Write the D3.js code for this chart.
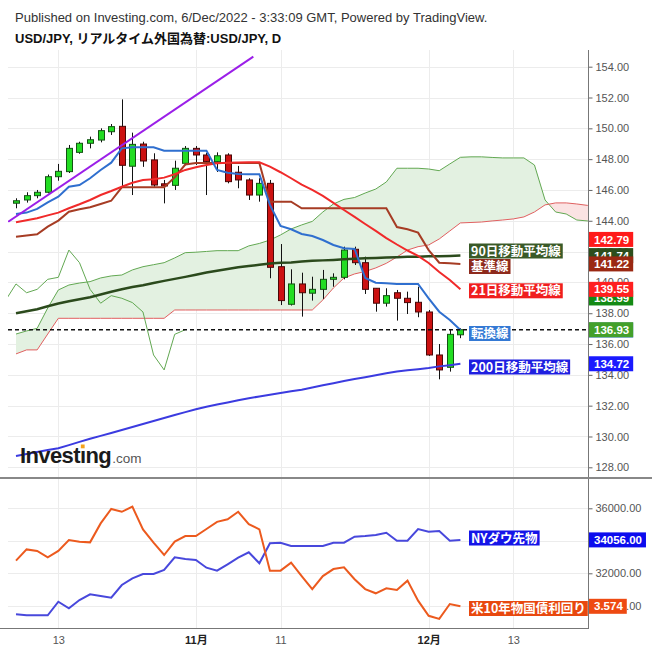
<!DOCTYPE html>
<html><head><meta charset="utf-8">
<script src="https://cdn.jsdelivr.net/npm/d3@7"></script>
<style>body{margin:0;background:#fff}svg{display:block}</style>
</head><body>
<svg id="c" width="652" height="652"></svg>
<script>
// ---------------- DATA ----------------
const dates = ["10/07","10/10","10/11","10/12","10/13","10/14","10/17","10/18","10/19","10/20","10/21","10/24","10/25","10/26","10/27","10/28","10/31","11/01","11/02","11/03","11/04","11/07","11/08","11/09","11/10","11/11","11/14","11/15","11/16","11/17","11/18","11/21","11/22","11/23","11/24","11/25","11/28","11/29","11/30","12/01","12/02","12/05","12/06"];
const open  = [145.14,145.35,145.63,145.85,146.86,147.19,148.44,149.03,149.24,149.78,150.13,147.54,148.98,147.95,146.40,146.30,147.73,148.70,148.27,147.84,148.27,147.15,146.65,145.67,146.43,141.02,138.58,139.90,139.30,139.55,140.20,140.33,142.15,141.28,139.62,138.65,139.33,138.97,138.71,138.08,135.29,134.49,136.60];
const high  = [145.46,145.85,146.00,147.00,147.69,148.92,149.13,149.46,150.00,150.28,151.88,149.72,149.13,148.38,146.65,147.90,148.85,148.85,148.40,148.44,148.38,147.56,146.76,146.76,146.65,142.49,140.85,140.63,140.37,140.81,140.59,142.32,142.32,141.67,139.62,139.62,139.51,139.40,139.72,138.21,136.00,136.91,137.02];
const low   = [144.81,145.18,145.46,145.78,146.60,147.10,148.35,148.70,149.09,149.57,146.22,145.67,147.50,146.21,145.13,146.00,147.60,147.62,145.67,147.17,146.43,146.11,145.35,145.24,140.27,138.53,138.50,137.78,138.82,138.93,139.72,140.20,141.13,139.25,138.10,138.43,137.52,137.95,137.74,135.23,133.71,134.21,136.38];
const close = [145.30,145.63,145.85,146.86,147.21,148.70,149.03,149.26,149.85,150.11,147.60,148.96,147.88,146.32,146.26,147.41,148.70,148.27,147.84,148.22,146.54,146.65,145.67,146.43,140.98,138.82,139.90,139.33,139.55,140.20,140.33,142.10,141.28,139.55,138.65,139.14,138.97,138.69,138.08,135.29,134.32,136.63,136.93];

const tenkan = [144.44,144.53,144.77,145.20,145.56,146.21,146.32,146.76,147.30,147.77,148.70,148.77,148.77,148.77,148.55,148.55,148.55,148.55,148.55,147.30,147.12,147.04,147.02,147.02,145.03,143.66,143.45,143.14,143.01,142.75,142.43,142.22,142.17,140.29,139.98,139.94,139.90,139.90,139.90,138.97,138.10,137.56,136.91];
const kijun  = [142.97,143.05,143.12,143.62,144.01,144.59,144.75,144.88,145.09,145.30,146.17,146.17,146.17,146.17,146.17,146.82,147.65,147.75,147.75,147.75,147.75,147.75,147.75,147.75,145.24,145.24,145.24,144.81,144.81,144.81,144.81,144.81,144.81,144.81,144.81,144.81,143.59,143.45,143.23,142.10,141.28,141.24,141.20];
const ma21   = [143.90,144.03,144.16,144.35,144.53,144.81,145.07,145.35,145.67,145.93,146.21,146.47,146.65,146.69,146.80,147.02,147.30,147.47,147.62,147.73,147.77,147.79,147.80,147.80,147.51,147.15,146.76,146.34,146.00,145.61,145.16,144.70,144.25,143.79,143.34,142.88,142.46,142.07,141.72,141.26,140.68,140.16,139.55];
const ma90   = [138.00,138.13,138.26,138.45,138.63,138.78,138.91,139.04,139.22,139.39,139.56,139.70,139.82,139.96,140.10,140.23,140.36,140.50,140.64,140.76,140.87,140.98,141.06,141.14,141.22,141.27,141.30,141.35,141.40,141.43,141.46,141.50,141.53,141.56,141.59,141.61,141.64,141.66,141.67,141.69,141.70,141.72,141.74];
const ma200  = [128.74,128.87,128.99,129.12,129.24,129.44,129.65,129.85,130.04,130.23,130.42,130.62,130.81,131.00,131.20,131.39,131.58,131.77,131.93,132.07,132.21,132.35,132.48,132.60,132.71,132.82,132.93,133.04,133.18,133.32,133.46,133.60,133.73,133.85,133.97,134.10,134.22,134.30,134.37,134.45,134.55,134.63,134.72];
// leading spans (index 0..55, extending past the last candle)
const spanA = [136.65,136.85,137.02,138.34,139.51,139.83,139.96,140.05,140.29,140.42,140.48,140.81,141.02,141.15,141.28,141.59,141.93,141.96,142.01,142.06,142.06,142.06,142.37,142.53,142.75,143.08,143.47,143.73,143.96,144.57,145.09,145.39,145.51,145.80,146.06,146.52,147.41,147.41,147.41,147.36,147.25,147.69,148.12,148.15,148.15,148.11,148.08,148.08,148.08,147.62,145.35,144.57,144.44,144.05,143.99,143.92];
const spanB = [135.36,135.62,135.62,136.65,137.67,137.67,137.67,137.67,137.67,137.67,137.67,137.67,137.67,137.67,137.67,138.21,138.21,138.21,138.21,138.21,138.21,138.21,138.21,138.21,138.21,138.21,138.21,138.21,138.21,138.86,139.64,140.29,140.55,140.71,140.94,141.24,141.65,142.10,142.32,142.43,142.82,143.34,143.86,143.89,143.92,143.99,144.05,144.12,144.25,144.57,145.03,145.16,145.16,145.09,145.00,144.95];
const chikouShift = 26;

const dow     = [29477,29415,29415,29415,30252,29846,30357,30708,30603,30498,31280,31692,31957,31957,32203,32985,32880,32818,32345,32160,32554,32960,33292,32615,33846,33883,33680,33680,33680,33680,33883,33883,34252,34295,34357,34498,34006,34006,34726,34560,34603,34000,34056];
const yield10 = [3.834,3.898,3.889,3.853,3.889,3.951,3.942,3.938,4.046,4.128,4.112,4.141,4.012,3.936,3.866,3.942,3.974,3.974,4.014,4.055,4.069,4.112,4.042,4.012,3.777,3.777,3.822,3.746,3.672,3.746,3.786,3.796,3.728,3.672,3.648,3.676,3.667,3.720,3.606,3.520,3.502,3.587,3.574];

const trendLine = [{i:-0.73, p:143.94},{i:22.43, p:154.65}];

const priceTicks = [128,130,132,134,136,138,140,142,144,146,148,150,152,154];
const dowTicks = [30000,32000,34000,36000];
const xTickIdx = [4,17,25,39,47];
const xTickLabels = ["13","11月","11","12月","13"];
const xTickBold = [false,true,false,true,false];

// ---------------- LAYOUT ----------------
const L=8, R=588, T1=50, B1=477, T2=479, B2=628;
const svg = d3.select("#c");
const x = d3.scaleLinear().domain([0,42]).range([16,460.4]);
const y = d3.scaleLinear().domain([128,154]).range([467.3,66.7]);
const yD = d3.scaleLinear().domain([32000,36000]).range([573.3,508.3]);
const yY = d3.scaleLinear().domain([3.574,4.141]).range([606.3,506.7]);
const LAT = "'Liberation Sans', Arial, sans-serif";
const JP = "'Noto Sans CJK JP', 'Liberation Sans', sans-serif";

const defs = svg.append("defs");
defs.append("clipPath").attr("id","cp1").append("rect").attr("x",L).attr("y",T1).attr("width",R-L).attr("height",B1-T1);
defs.append("clipPath").attr("id","cp2").append("rect").attr("x",L).attr("y",T2).attr("width",R-L).attr("height",B2-T2);

// header
svg.append("text").attr("x",15).attr("y",22).attr("font-family",LAT).attr("font-size",13).attr("fill","#333")
  .text("Published on Investing.com, 6/Dec/2022 - 3:33:09 GMT, Powered by TradingView.");
svg.append("text").attr("x",15).attr("y",43).attr("font-family",LAT+",'Noto Sans CJK JP'").attr("font-size",13).attr("font-weight","bold").attr("fill","#111")
  .text("USD/JPY, リアルタイム外国為替:USD/JPY, D");

// gridlines
const grid = svg.append("g").attr("stroke","#ececec").attr("stroke-width",1);
priceTicks.forEach(p=>grid.append("line").attr("x1",L).attr("x2",R).attr("y1",Math.round(y(p))+0.5).attr("y2",Math.round(y(p))+0.5));
dowTicks.forEach(v=>grid.append("line").attr("x1",L).attr("x2",R).attr("y1",Math.round(yD(v))+0.5).attr("y2",Math.round(yD(v))+0.5));
xTickIdx.forEach(i=>{
  const xx=Math.round(x(i))+0.5;
  grid.append("line").attr("x1",xx).attr("x2",xx).attr("y1",T1).attr("y2",B1);
  grid.append("line").attr("x1",xx).attr("x2",xx).attr("y1",T2).attr("y2",B2);
});

// ---------------- MAIN PANE ----------------
const g1 = svg.append("g").attr("clip-path","url(#cp1)");
const idxA = spanA.map((_,i)=>i);
// cloud
const cloudArea = d3.area().x(i=>x(i)).y0(i=>y(spanB[i])).y1(i=>y(spanA[i]));
const aboveB = d3.area().x(i=>x(i)).y0(i=>y(spanB[i])).y1(T1-50);
const belowB = d3.area().x(i=>x(i)).y0(i=>y(spanB[i])).y1(B1+50);
defs.append("clipPath").attr("id","cpUp").append("path").attr("d",aboveB(idxA));
defs.append("clipPath").attr("id","cpDn").append("path").attr("d",belowB(idxA));
g1.append("g").attr("clip-path","url(#cpUp)").append("path").attr("d",cloudArea(idxA)).attr("fill","#e3f1e1");
g1.append("g").attr("clip-path","url(#cpDn)").append("path").attr("d",cloudArea(idxA)).attr("fill","#fbe3e3");

const ln = (arr)=>d3.line().x((d,i)=>x(i)).y(d=>y(d))(arr);
g1.append("path").attr("d",ln(spanA)).attr("fill","none").attr("stroke","#62a852").attr("stroke-width",1);
g1.append("path").attr("d",ln(spanB)).attr("fill","none").attr("stroke","#e06060").attr("stroke-width",1);
// lagging span: closes drawn 26 bars back
const chik = close.map((c,k)=>({i:k-chikouShift,p:c})).filter(d=>d.i>=-1);
g1.append("path").attr("d",d3.line().x(d=>x(d.i)).y(d=>y(d.p))(chik)).attr("fill","none").attr("stroke","#62a852").attr("stroke-width",1);

// candles
const cg = g1.append("g");
close.forEach((c,i)=>{
  const o=open[i], up=c>=o, xx=Math.round(x(i))+0.5;
  cg.append("line").attr("x1",xx).attr("x2",xx).attr("y1",y(high[i])).attr("y2",y(low[i])).attr("stroke","#111").attr("stroke-width",1);
  const top=y(Math.max(o,c)), bot=y(Math.min(o,c));
  cg.append("rect").attr("x",xx-3).attr("y",top).attr("width",6).attr("height",Math.max(1,bot-top))
    .attr("fill",up?"#22dd22":"#cc1111").attr("stroke",up?"#145214":"#4a0808").attr("stroke-width",1);
});

// indicator lines
g1.append("path").attr("d",ln(ma200)).attr("fill","none").attr("stroke","#3b3be0").attr("stroke-width",2);
g1.append("path").attr("d",ln(ma90)).attr("fill","none").attr("stroke","#2b4a1c").attr("stroke-width",2.5);
g1.append("path").attr("d",ln(kijun)).attr("fill","none").attr("stroke","#a63c24").attr("stroke-width",2);
g1.append("path").attr("d",ln(ma21)).attr("fill","none").attr("stroke","#f02a2a").attr("stroke-width",2);
g1.append("path").attr("d",ln(tenkan)).attr("fill","none").attr("stroke","#2f6fcf").attr("stroke-width",2);
g1.append("path").attr("d",d3.line().x(d=>x(d.i)).y(d=>y(d.p))(trendLine)).attr("fill","none").attr("stroke","#9b1fe8").attr("stroke-width",2);

// logo
const logo = svg.append("g");
const lt = logo.append("text").attr("x",20).attr("y",463).attr("font-family",LAT).attr("font-size",22).attr("font-weight","bold").attr("fill","#1a1a1a").attr("letter-spacing",-0.6).text("Investıng");
const lw = lt.node().getComputedTextLength();
logo.append("text").attr("x",20+lw+1).attr("y",463).attr("font-family",LAT).attr("font-size",13.5).attr("fill","#555").text(".com");
try{
  const s = lt.node().getStartPositionOfChar(6), e = lt.node().getEndPositionOfChar(6);
  logo.append("rect").attr("x",(s.x+e.x)/2-1.9).attr("y",444.5).attr("width",3.8).attr("height",3.8).attr("fill","#f5a21b");
}catch(err){}

// current price dashed line
svg.append("line").attr("x1",L).attr("x2",R).attr("y1",y(close[42])).attr("y2",y(close[42]))
  .attr("stroke","#111").attr("stroke-width",1.5).attr("stroke-dasharray","4,3");

// ---------------- LOWER PANE ----------------
const g2 = svg.append("g").attr("clip-path","url(#cp2)");
g2.append("path").attr("d",d3.line().x((d,i)=>x(i)).y(d=>yD(d))(dow)).attr("fill","none").attr("stroke","#4848dc").attr("stroke-width",2);
g2.append("path").attr("d",d3.line().x((d,i)=>x(i)).y(d=>yY(d))(yield10)).attr("fill","none").attr("stroke","#ec5a1e").attr("stroke-width",2);

// ---------------- AXES ----------------
const ax1 = svg.append("g").attr("transform",`translate(${R+0.5},0)`)
  .call(d3.axisRight(y).tickValues(priceTicks).tickFormat(d3.format(".2f")).tickSize(4).tickPadding(3));
const ax2 = svg.append("g").attr("transform",`translate(${R+0.5},0)`)
  .call(d3.axisRight(yD).tickValues(dowTicks).tickFormat(d3.format(".2f")).tickSize(4).tickPadding(3));
[ax1,ax2].forEach(a=>{
  a.select(".domain").remove();
  a.selectAll("line").attr("stroke","#666");
  a.selectAll("text").attr("font-family",LAT).attr("font-size",11).attr("fill","#555");
});
const axX = svg.append("g").attr("transform",`translate(0,${B2})`)
  .call(d3.axisBottom(x).tickValues(xTickIdx).tickFormat((d,j)=>xTickLabels[j]).tickSize(0).tickPadding(8));
axX.select(".domain").remove();
axX.selectAll("text").attr("font-family",LAT+",'Noto Sans CJK JP'").attr("font-size",11)
  .attr("fill",(d,j)=>xTickBold[j]?"#222":"#555").attr("font-weight",(d,j)=>xTickBold[j]?"bold":"normal");

// frame lines
svg.append("line").attr("x1",R+0.5).attr("x2",R+0.5).attr("y1",T1).attr("y2",B2).attr("stroke","#777").attr("stroke-width",1);
svg.append("line").attr("x1",0).attr("x2",R+1).attr("y1",B2+0.5).attr("y2",B2+0.5).attr("stroke","#777").attr("stroke-width",1);
svg.append("line").attr("x1",0).attr("x2",652).attr("y1",478).attr("y2",478).attr("stroke","#888").attr("stroke-width",2);

// ---------------- VALUE TAGS ----------------
function axisTag(yc, txt, bg){
  const g = svg.append("g");
  const r = g.append("rect").attr("fill",bg);
  const t = g.append("text").attr("x",594).attr("y",yc).attr("dy","0.36em").attr("font-family",LAT).attr("font-size",11.5).attr("font-weight","bold").attr("fill","#fff").text(txt);
  const w = t.node().getComputedTextLength();
  r.attr("x",589).attr("y",yc-7.5).attr("width",w+9).attr("height",15);
}
axisTag(y(ma90[42]), ma90[42].toFixed(2), "#2d4e1c");
axisTag(y(142.79), "142.79", "#ff1a1a");
axisTag(y(kijun[42]), "141.22", "#9a2812");
axisTag(y(138.99), "138.99", "#148a14");
axisTag(y(ma21[42]), ma21[42].toFixed(2), "#ff2020");
axisTag(y(tenkan[42]), tenkan[42].toFixed(2), "#2f6fcf");
axisTag(y(close[42]), close[42].toFixed(2), "#43a02a");
axisTag(y(ma200[42]), ma200[42].toFixed(2), "#1a1aff");
axisTag(yD(dow[42]), dow[42].toFixed(2), "#0c0cee");
axisTag(yY(yield10[42]), yield10[42].toFixed(3), "#ee4a12");

function legendTag(yc, txt, bg){
  const g = svg.append("g");
  const r = g.append("rect").attr("fill",bg);
  const t = g.append("text").attr("x",471).attr("y",yc).attr("dy","0.36em").attr("font-family",JP).attr("font-size",12.5).attr("font-weight","bold").attr("fill","#fff").text(txt);
  const w = t.node().getComputedTextLength();
  r.attr("x",469).attr("y",yc-7.5).attr("width",w+4).attr("height",15);
}
legendTag(251, "90日移動平均線", "#3a5a28");
legendTag(266.5, "基準線", "#8e2a1c");
legendTag(290.8, "21日移動平均線", "#f01e1e");
legendTag(333.5, "転換線", "#3479d4");
legendTag(367, "200日移動平均線", "#1f1fe0");
legendTag(538, "NYダウ先物", "#1515e8");
legendTag(608.5, "米10年物国債利回り", "#e8480e");
</script>
</body></html>
